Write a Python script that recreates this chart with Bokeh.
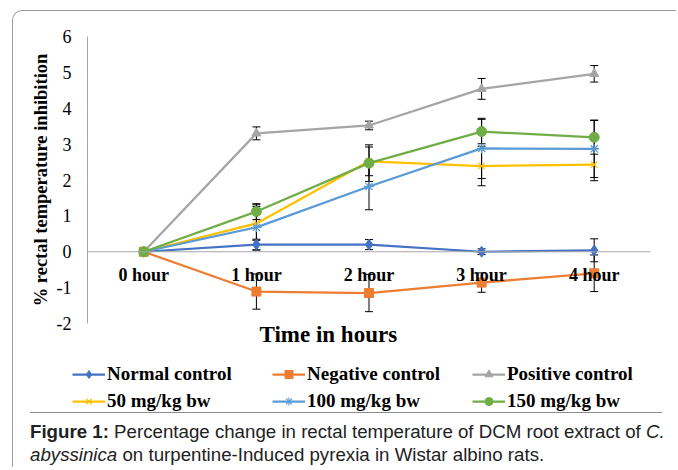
from bokeh.plotting import figure
from bokeh.models import (Range1d, FixedTicker, Span, Whisker, TeeHead, ColumnDataSource,
                          Legend, LegendItem, Title, Div)
from bokeh.layouts import column
from bokeh.core.properties import value
from bokeh.embed import file_html
from bokeh.resources import INLINE

categories = ["0 hour", "1 hour", "2 hour", "3 hour", "4 hour"]
x = [0, 1, 2, 3, 4]

normal = [0, 0.20, 0.20, 0.00, 0.04]
normal_err = [0, 0.15, 0.14, 0.08, 0.32]
negative = [0, -1.11, -1.15, -0.86, -0.60]
negative_err = [0, 0.49, 0.52, 0.27, 0.51]
positive = [0, 3.30, 3.52, 4.54, 4.96]
positive_err = [0, 0.18, 0.12, 0.29, 0.23]
mg50 = [0, 0.79, 2.52, 2.39, 2.43]
mg50_err = [0, 0.47, 0.40, 0.55, 0.45]
mg100 = [0, 0.68, 1.82, 2.88, 2.87]
mg100_err = [0, 0.63, 0.65, 0.84, 0.80]
mg150 = [0, 1.12, 2.47, 3.35, 3.19]
mg150_err = [0, 0.22, 0.51, 0.34, 0.47]

y_ticks = [-2, -1, 0, 1, 2, 3, 4, 5, 6]

SERIF = "Liberation Serif"

p = figure(width=663, height=339, output_backend="svg", toolbar_location=None,
           x_range=Range1d(-0.5, 4.5), y_range=Range1d(-2, 6),
           min_border_left=74, min_border_right=26, min_border_top=25, min_border_bottom=27)
p.outline_line_color = None
p.xgrid.visible = False
p.ygrid.visible = False
p.xaxis.visible = False
p.yaxis.ticker = FixedTicker(ticks=y_ticks)
p.yaxis.major_label_overrides = {t: str(t) for t in y_ticks}
p.yaxis.major_tick_line_color = None
p.yaxis.minor_tick_line_color = None
p.yaxis.major_tick_out = 0
p.yaxis.major_tick_in = 0
p.yaxis.axis_line_color = "#a6a6a6"
p.yaxis.axis_line_width = 1
p.yaxis.major_label_text_font = SERIF
p.yaxis.major_label_text_font_size = "18px"
p.yaxis.major_label_text_color = "black"
p.yaxis.major_label_standoff = 16
p.yaxis.axis_label = "% rectal temperature inhibition"
p.yaxis.axis_label_text_font = SERIF
p.yaxis.axis_label_text_font_size = "18.5px"
p.yaxis.axis_label_text_font_style = "bold"
p.yaxis.axis_label_text_color = "black"
p.yaxis.axis_label_standoff = 3

p.add_layout(Span(location=0, dimension="width", line_color="#a6a6a6", line_width=1))

series = [
    ("Normal control", normal, normal_err, "#4472C4", "diamond", 11),
    ("Negative control", negative, negative_err, "#ED7D31", "square", 9),
    ("Positive control", positive, positive_err, "#A5A5A5", "triangle", 9),
    ("50 mg/kg bw", mg50, mg50_err, "#FFC000", "x", 9),
    ("100 mg/kg bw", mg100, mg100_err, "#5B9BD5", "asterisk", 10),
    ("150 mg/kg bw", mg150, mg150_err, "#70AD47", "circle", 10),
]

# separate strip that carries the legend below the chart
pl = figure(width=663, height=62, output_backend="svg", toolbar_location=None,
            x_range=Range1d(0, 1), y_range=Range1d(0, 1),
            min_border_left=0, min_border_right=0, min_border_top=0, min_border_bottom=0)
pl.frame_align = False
pl.axis.visible = False
pl.grid.visible = False
pl.outline_line_color = None

nan = float("nan")
items = []
for name, vals, errs, color, marker, size in series:
    src = ColumnDataSource(dict(x=x, y=vals,
                                upper=[v + e for v, e in zip(vals, errs)],
                                lower=[v - e for v, e in zip(vals, errs)]))
    p.line("x", "y", source=src, line_color=color, line_width=2.25)
    mk = dict(marker=marker, line_color=color, fill_color=color)
    if marker in ("x", "asterisk"):
        mk["line_width"] = 1.2
    p.scatter("x", "y", source=src, size=size, **mk)
    w = Whisker(source=src, base="x", upper="upper", lower="lower",
                line_color="black", line_width=1,
                upper_head=TeeHead(size=8, line_color="black", line_width=1),
                lower_head=TeeHead(size=8, line_color="black", line_width=1))
    p.add_layout(w)
    # legend swatches (a single NaN point, so nothing is drawn in the strip itself)
    lsrc = ColumnDataSource(dict(x=[nan], y=[nan]))
    ln = pl.line("x", "y", source=lsrc, line_color=color, line_width=2.25)
    sc = pl.scatter("x", "y", source=lsrc, size=max(size - 3, 6), **mk)
    items.append(LegendItem(label=name, renderers=[ln, sc]))

# category labels along the zero line
p.text(x=x, y=[0] * len(x), text=categories, y_offset=23,
       text_font=value(SERIF), text_font_size="18px", text_font_style="bold",
       text_align="center", text_baseline="middle", text_color="black")

p.add_layout(Title(text="Time in hours", align="left", offset=172, standoff=-4,
                   text_line_height=0.8, vertical_align="top",
                   text_font=SERIF, text_font_size="23px", text_font_style="bold",
                   text_color="black"), "below")

legend = Legend(items=items, location=(59, 0), orientation="horizontal", ncols=3,
                glyph_width=33, glyph_height=20, label_standoff=2, label_width=160,
                label_height=20, spacing=5, padding=0, margin=0,
                border_line_color=None, background_fill_alpha=0,
                label_text_font=SERIF, label_text_font_size="19px",
                label_text_font_style="bold", label_text_color="black")
pl.add_layout(legend, "center")

caption = Div(width=663, height=55, margin=(0, 0, 0, 0), text=(
    "<div style=\"margin-left:17px; width:632px; border-top:1px solid #8c8c8c; "
    "padding-top:7px; font-family:'Liberation Sans'; font-size:18.7px; line-height:23px; "
    "white-space:nowrap; color:#222;\">"
    "<b>Figure 1:</b> Percentage change in rectal temperature of DCM root extract of <i>C.</i><br>"
    "<i>abyssinica</i> on turpentine-Induced pyrexia in Wistar albino rats.</div>"))

layout = column(p, pl, caption, styles={"border-left": "1px solid #9a9a9a",
                                        "border-top": "1px solid #9a9a9a",
                                        "border-top-left-radius": "10px",
                                        "margin-left": "12px", "margin-top": "10px",
                                        "overflow": "hidden"})

open("out.html", "w").write(file_html(layout, INLINE))
